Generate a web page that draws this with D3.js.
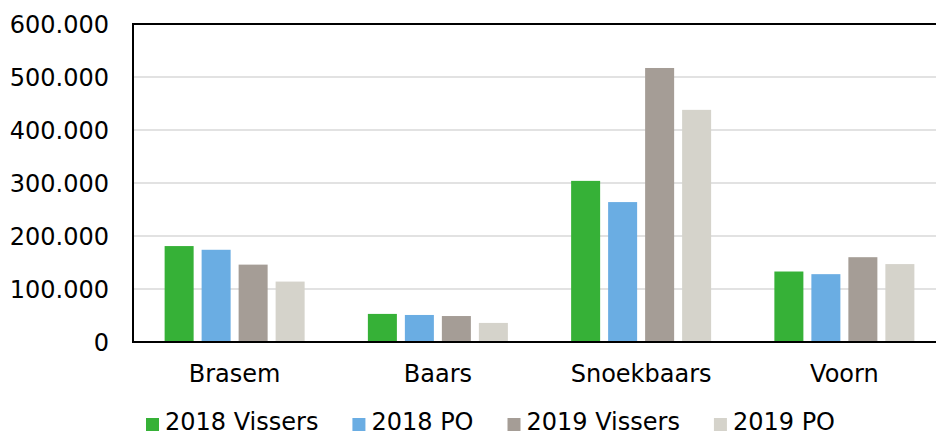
<!DOCTYPE html>
<html>
<head>
<meta charset="utf-8">
<script src="https://cdn.jsdelivr.net/npm/d3@7"></script>
<style>
  body { margin: 0; background: #fff; }
  svg text { font-family: "DejaVu Sans", Verdana, sans-serif; fill: #000; }
</style>
</head>
<body>
<div id="chart"></div>
<script>
'use strict';

// data
var categories = ["Brasem", "Baars", "Snoekbaars", "Voorn"];
var seriesNames = ["2018 Vissers", "2018 PO", "2019 Vissers", "2019 PO"];
var seriesColors = ["#36b137", "#6aade3", "#a59d96", "#d5d3cb"];
var vissers2018 = [181000, 53000, 304000, 133000];
var po2018 = [174000, 51000, 264000, 128000];
var vissers2019 = [146000, 49000, 517000, 160000];
var po2019 = [114000, 36000, 438000, 147000];
var yTicks = [0, 100000, 200000, 300000, 400000, 500000, 600000];

var series = [vissers2018, po2018, vissers2019, po2019];

var W = 936, H = 436;
var margin = { top: 24, left: 133, bottom: 342 };

var svg = d3.select("#chart").append("svg")
  .attr("width", W)
  .attr("height", H);

var x0 = d3.scaleBand().domain(categories).range([margin.left, 946]).padding(0);
var groupW = 140;
var x1 = d3.scaleBand().domain(d3.range(series.length)).range([0, groupW]).paddingInner(0.216).paddingOuter(0);
var y = d3.scaleLinear().domain([0, 600000]).range([margin.bottom, margin.top]);

var fmt = function(v) {
  return v === 0 ? "0" : d3.format(",")(v).replace(/,/g, ".");
};

// gridlines
svg.append("g")
  .selectAll("line")
  .data(yTicks.filter(function(d) { return d > 0 && d < 600000; }))
  .enter().append("line")
  .attr("x1", margin.left)
  .attr("x2", W)
  .attr("y1", function(d) { return y(d); })
  .attr("y2", function(d) { return y(d); })
  .attr("stroke", "#d9d9d9")
  .attr("stroke-width", 1.5);

// y labels
svg.append("g")
  .selectAll("text")
  .data(yTicks)
  .enter().append("text")
  .attr("x", 109)
  .attr("y", function(d) { return y(d); })
  .attr("dy", "0.36em")
  .attr("text-anchor", "end")
  .style("font-size", "24px")
  .text(fmt);

// bars
var groups = svg.append("g")
  .selectAll("g")
  .data(categories)
  .enter().append("g")
  .attr("transform", function(d) {
    return "translate(" + (x0(d) + (x0.bandwidth() - groupW) / 2) + ",0)";
  });

groups.selectAll("rect")
  .data(function(d, i) {
    return series.map(function(s, k) { return { k: k, v: s[i] }; });
  })
  .enter().append("rect")
  .attr("x", function(d) { return x1(d.k); })
  .attr("y", function(d) { return y(d.v); })
  .attr("width", x1.bandwidth())
  .attr("height", function(d) { return y(0) - y(d.v); })
  .attr("fill", function(d) { return seriesColors[d.k]; });

// frame: top, left, bottom
svg.append("line")
  .attr("x1", margin.left).attr("x2", W)
  .attr("y1", margin.top).attr("y2", margin.top)
  .attr("stroke", "#000").attr("stroke-width", 2);
svg.append("line")
  .attr("x1", margin.left).attr("x2", margin.left)
  .attr("y1", margin.top - 1).attr("y2", margin.bottom + 1)
  .attr("stroke", "#000").attr("stroke-width", 2);
svg.append("line")
  .attr("x1", margin.left - 1).attr("x2", W)
  .attr("y1", margin.bottom).attr("y2", margin.bottom)
  .attr("stroke", "#000").attr("stroke-width", 2);

// category labels
svg.append("g")
  .selectAll("text")
  .data(categories)
  .enter().append("text")
  .attr("x", function(d) { return x0(d) + x0.bandwidth() / 2; })
  .attr("y", 382)
  .attr("text-anchor", "middle")
  .style("font-size", "24px")
  .text(function(d) { return d; });

// legend
var legend = svg.append("g");
var lx = 146;
seriesNames.forEach(function(name, k) {
  legend.append("rect")
    .attr("x", lx)
    .attr("y", 418)
    .attr("width", 13)
    .attr("height", 13)
    .attr("fill", seriesColors[k]);
  var t = legend.append("text")
    .attr("x", lx + 19)
    .attr("y", 430)
    .style("font-size", "24px")
    .text(name);
  lx += 19 + t.node().getComputedTextLength() + 34;
});
</script>
</body>
</html>
